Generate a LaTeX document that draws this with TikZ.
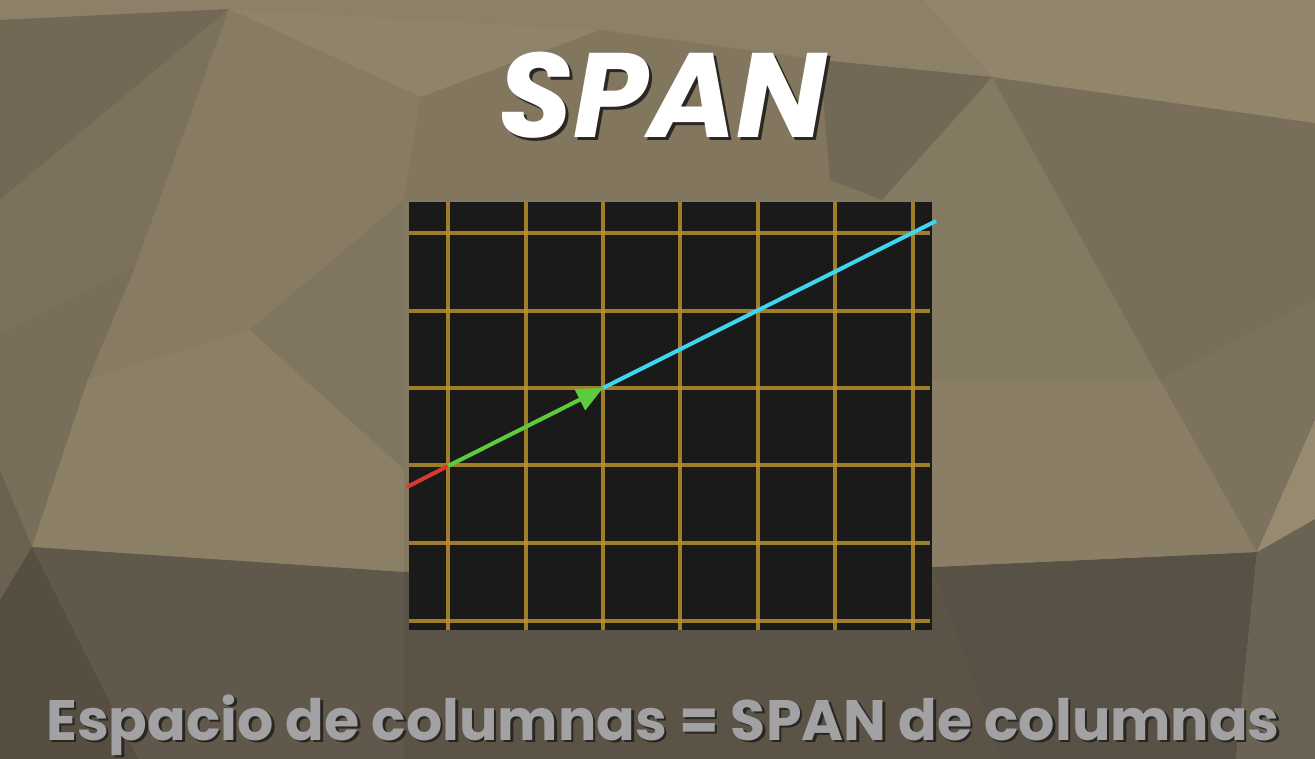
\documentclass[tikz,border=0pt]{standalone}
\usepackage{fontspec}
\newfontfamily\pop{Poppins}
\usetikzlibrary{arrows.meta}
\definecolor{gridbg}{HTML}{1A1A1A}
\definecolor{gridc}{HTML}{BC952F}
\definecolor{vred}{HTML}{D83A2E}
\definecolor{vgreen}{HTML}{5CCB3E}
\definecolor{vcyan}{HTML}{3DD6F2}
\definecolor{txtgray}{HTML}{A2A2A4}
\definecolor{shad}{HTML}{2A2622}
\tikzset{
  gridline/.style={draw=gridc, line width=4pt, opacity=0.82},
  vecline/.style={line width=4pt},
  titlefont/.style={font=\pop\bfseries\itshape\fontsize{120}{120}\selectfont, inner sep=0pt},
  subfont/.style={font=\pop\bfseries\fontsize{57}{57}\selectfont, inner sep=0pt}
}
\begin{document}
\begin{tikzpicture}[x=1pt,y=-1pt,line join=round]
\useasboundingbox (0,0) rectangle (1315,759);
% ---------- background facets
\fill[fill={rgb,255:red,131;green,120;blue,96}] (0,0) rectangle (1315,759);
\fill[fill={rgb,255:red,140;green,128;blue,105}] (0,0) -- (924,0) -- (992,77) -- (820,60) -- (600,30) -- (229,9) -- (0,20) -- cycle;
\fill[fill={rgb,255:red,114;green,104;blue,85}] (0,20) -- (229,9) -- (0,200) -- cycle;
\fill[fill={rgb,255:red,124;green,113;blue,91}] (0,200) -- (229,9) -- (135,267) -- (0,333) -- cycle;
\fill[fill={rgb,255:red,135;green,123;blue,99}] (229,9) -- (421,97) -- (404,200) -- (250,330) -- (88,379) -- (135,267) -- cycle;
\fill[fill={rgb,255:red,143;green,131;blue,106}] (229,9) -- (600,30) -- (421,97) -- cycle;
\fill[fill={rgb,255:red,130;green,118;blue,95}] (421,97) -- (600,30) -- (820,60) -- (830,180) -- (882,200) -- (404,200) -- cycle;
\fill[fill={rgb,255:red,120;green,110;blue,89}] (0,333) -- (135,267) -- (88,379) -- (32,547) -- (0,470) -- cycle;
\fill[fill={rgb,255:red,139;green,127;blue,102}] (88,379) -- (250,330) -- (404,469) -- (404,572) -- (32,547) -- cycle;
\fill[fill={rgb,255:red,128;green,117;blue,94}] (250,330) -- (404,200) -- (404,469) -- cycle;
\fill[fill={rgb,255:red,106;green,97;blue,80}] (0,470) -- (32,547) -- (0,600) -- cycle;
\fill[fill={rgb,255:red,85;green,78;blue,65}] (0,600) -- (32,547) -- (139,759) -- (0,759) -- cycle;
\fill[fill={rgb,255:red,96;green,88;blue,74}] (32,547) -- (404,572) -- (409,759) -- (139,759) -- cycle;
\fill[fill={rgb,255:red,90;green,83;blue,70}] (404,572) -- (932,567) -- (1000,759) -- (404,759) -- cycle;
\fill[fill={rgb,255:red,88;green,81;blue,69}] (932,567) -- (1257,552) -- (1236,759) -- (1000,759) -- cycle;
\fill[fill={rgb,255:red,106;green,98;blue,82}] (1257,552) -- (1315,519) -- (1315,759) -- (1236,759) -- cycle;
\fill[fill={rgb,255:red,138;green,126;blue,102}] (932,380) -- (1160,380) -- (1257,552) -- (932,567) -- cycle;
\fill[fill={rgb,255:red,124;green,114;blue,94}] (1160,380) -- (1315,300) -- (1315,420) -- (1257,552) -- cycle;
\fill[fill={rgb,255:red,150;green,138;blue,112}] (1315,420) -- (1315,519) -- (1257,552) -- cycle;
\fill[fill={rgb,255:red,132;green,121;blue,97}] (932,200) -- (882,200) -- (992,77) -- (1160,380) -- (932,380) -- cycle;
\fill[fill={rgb,255:red,120;green,110;blue,90}] (992,77) -- (1315,123) -- (1315,300) -- (1160,380) -- cycle;
\fill[fill={rgb,255:red,145;green,133;blue,108}] (924,0) -- (1315,0) -- (1315,123) -- (992,77) -- cycle;
\fill[fill={rgb,255:red,114;green,104;blue,86}] (820,60) -- (992,77) -- (882,200) -- (830,180) -- cycle;
% ---------- grid
\fill[gridbg] (409,202) rectangle (932,630);
\foreach \gx in {448,526,603,680,758,835,913} \draw[gridline] (\gx,202) -- (\gx,630);
\foreach \gy in {233,311,388,465,543,621} \draw[gridline] (409,\gy) -- (930,\gy);
% ---------- vector and its span
\coordinate (r0) at (407,487);
\coordinate (o) at (448,466);
\coordinate (v) at (603,388);
\coordinate (c1) at (936,221);
\draw[vecline, draw=vred] (r0) -- (o);
\draw[vecline, draw=vcyan] (v) -- (c1);
\draw[vecline, draw=vgreen, -{Triangle[length=26pt,width=23pt]}] (o) -- (v);
% ---------- title
\node[titlefont, anchor=base, text=shad] (titleshadow) at (666,141) {SPAN};
\node[titlefont, anchor=base, text=white] (title) at (663,138) {SPAN};
% ---------- subtitle
\node[subfont, anchor=base, text=shad] (subshadow) at (665.5,742.5) {Espacio de columnas = SPAN de columnas};
\node[subfont, anchor=base, text=txtgray] (sub) at (663,740) {Espacio de columnas = SPAN de columnas};
\end{tikzpicture}
\end{document}
